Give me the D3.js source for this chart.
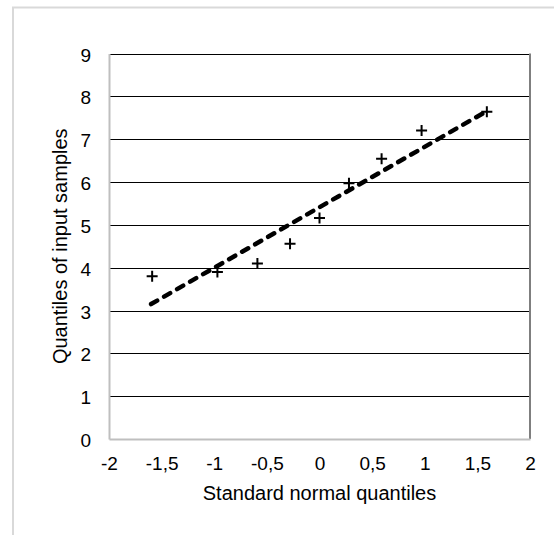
<!DOCTYPE html>
<html>
<head>
<meta charset="utf-8">
<script src="https://cdn.jsdelivr.net/npm/d3@7"></script>
<style>
  body { margin: 0; background: #fff; }
  svg text { font-family: "Liberation Sans", Arial, sans-serif; fill: #000; }
</style>
</head>
<body>
<div id="chart-container"></div>
<script>
// Sample points (theoretical quantile, sample quantile)
const normalQuantiles = [-1.59, -0.97, -0.59, -0.28, 0, 0.28, 0.59, 0.97, 1.59];
const sampleQuantiles = [3.8, 3.9, 4.1, 4.56, 5.16, 5.97, 6.54, 7.2, 7.64];

// Reference line end points
const refLineX = [-1.6, 1.6];
const refLineY = [3.15, 7.67];

// Tick values
const xTicks = [-2, -1.5, -1, -0.5, 0, 0.5, 1, 1.5, 2];
const yTicks = [0, 1, 2, 3, 4, 5, 6, 7, 8, 9];

const width = 554, height = 535;
const plot = { left: 109, right: 530, top: 53.5, bottom: 439 };

const svg = d3.select("#chart-container")
    .append("svg")
    .attr("width", width)
    .attr("height", height);

// outer chart border
svg.append("rect")
    .attr("x", 13).attr("y", 7.5)
    .attr("width", 560).attr("height", 560)
    .attr("fill", "#fff")
    .attr("stroke", "#d9d9d9")
    .attr("stroke-width", 2);

const x = d3.scaleLinear().domain([-2, 2]).range([plot.left, plot.right]);
const y = d3.scaleLinear().domain([0, 9]).range([plot.bottom, plot.top]);

// horizontal gridlines
svg.append("g")
    .selectAll("line")
    .data(yTicks.filter(d => d > 0))
    .enter().append("line")
    .attr("x1", plot.left).attr("x2", plot.right)
    .attr("y1", d => Math.round(y(d)) + 0.5)
    .attr("y2", d => Math.round(y(d)) + 0.5)
    .attr("stroke", "#000")
    .attr("stroke-width", 1);

// right border of plot area
svg.append("line")
    .attr("x1", plot.right).attr("x2", plot.right)
    .attr("y1", y(9)).attr("y2", plot.bottom)
    .attr("stroke", "#7f7f7f")
    .attr("stroke-width", 2);

// y axis
const yAxis = svg.append("g")
    .attr("transform", `translate(${plot.left},0)`)
    .call(d3.axisLeft(y).tickValues(yTicks).tickSize(0).tickPadding(18));
yAxis.select(".domain").attr("stroke", "#bfbfbf").attr("stroke-width", 2);
yAxis.selectAll("text").style("font-size", "19px").attr("dy", "0.4em");

// x axis
const fmt = d => String(d).replace(".", ",");
const xAxis = svg.append("g")
    .attr("transform", `translate(0,${plot.bottom})`)
    .call(d3.axisBottom(x).tickValues(xTicks).tickFormat(fmt).tickSize(0).tickPadding(18));
xAxis.select(".domain").attr("stroke", "#bfbfbf").attr("stroke-width", 2);
xAxis.selectAll("text").style("font-size", "19px");

// axis titles
svg.append("text")
    .attr("x", (plot.left + plot.right) / 2)
    .attr("y", 500)
    .attr("text-anchor", "middle")
    .style("font-size", "20px")
    .text("Standard normal quantiles");

svg.append("text")
    .attr("transform", `translate(67,${(plot.top + plot.bottom) / 2}) rotate(-90)`)
    .attr("text-anchor", "middle")
    .style("font-size", "20px")
    .text("Quantiles of input samples");

// dashed reference line
const line = d3.line()
    .x(d => x(d[0]))
    .y(d => y(d[1]));

svg.append("path")
    .datum(refLineX.map((d, i) => [d, refLineY[i]]))
    .attr("fill", "none")
    .attr("stroke", "#000")
    .attr("stroke-width", 4.5)
    .attr("stroke-linecap", "round")
    .attr("stroke-dasharray", "7,8")
    .attr("d", line);

// plus markers
const points = normalQuantiles.map((d, i) => ({ q: d, v: sampleQuantiles[i] }));
const s = 5.5;
svg.append("g")
    .selectAll("path")
    .data(points)
    .enter().append("path")
    .attr("d", d => {
        const cx = x(d.q), cy = y(d.v);
        return `M${cx - s},${cy}H${cx + s}M${cx},${cy - s}V${cy + s}`;
    })
    .attr("stroke", "#000")
    .attr("stroke-width", 2)
    .attr("fill", "none");
</script>
</body>
</html>
